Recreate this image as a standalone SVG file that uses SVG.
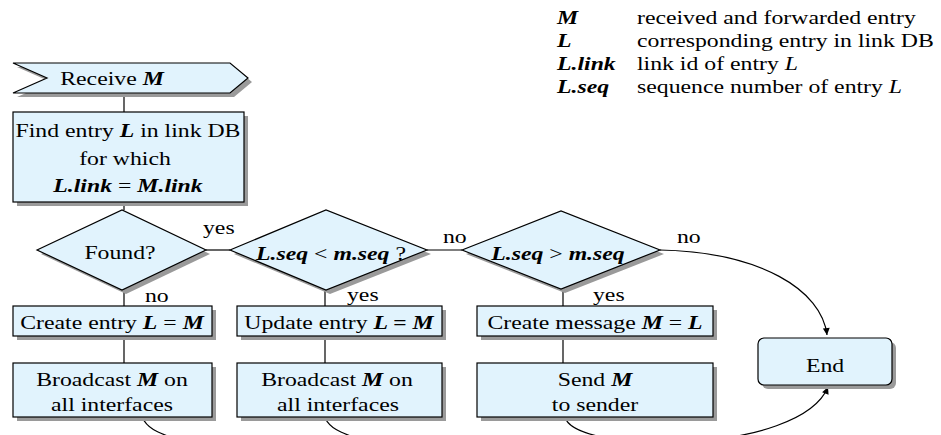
<svg xmlns="http://www.w3.org/2000/svg" width="941" height="435" viewBox="0 0 941 435">
<defs>
<style>
.box{fill:#e1f3fd;stroke:#000;stroke-width:1.2}
.sh{fill:#9a9a9a}
.t{font-family:"Liberation Serif","Times New Roman",serif;font-size:19px;fill:#000}
.c{text-anchor:middle}
.v{font-weight:bold;font-style:italic}
.i{font-style:italic}
.ln{fill:none;stroke:#000;stroke-width:1.2}
</style>
<marker id="ah" viewBox="0 0 10 10" refX="10" refY="5" markerWidth="8" markerHeight="7" orient="auto" markerUnits="userSpaceOnUse">
<path d="M0,0 L10,5 L0,10 z" fill="#000"/>
</marker>
</defs>
<rect width="941" height="435" fill="#fff"/>

<g id="legend" class="t" transform="translate(557 0) scale(1.25 1)">
<text x="0" y="24" class="v">M</text><text x="64" y="24">received and forwarded entry</text>
<text x="0" y="47" class="v">L</text><text x="64" y="47">corresponding entry in link DB</text>
<text x="0" y="70" class="v">L.link</text><text x="64" y="70">link id of entry <tspan class="i">L</tspan></text>
<text x="0" y="93" class="v">L.seq</text><text x="64" y="93">sequence number of entry <tspan class="i">L</tspan></text>
</g>

<g id="connectors">
<line class="ln" x1="124" y1="93" x2="124" y2="112"/>
<line class="ln" x1="124" y1="202" x2="124" y2="210"/>
<line class="ln" x1="206" y1="250" x2="230" y2="250"/>
<line class="ln" x1="427" y1="250" x2="462" y2="250"/>
<line class="ln" x1="124" y1="290" x2="124" y2="306"/>
<line class="ln" x1="124" y1="336" x2="124" y2="363"/>
<line class="ln" x1="325" y1="290" x2="325" y2="306"/>
<line class="ln" x1="325" y1="336" x2="325" y2="363"/>
<line class="ln" x1="563" y1="289" x2="563" y2="306"/>
<line class="ln" x1="563" y1="336" x2="563" y2="363"/>
<path class="ln" d="M660,250 C760,252 822,290 827,335" marker-end="url(#ah)"/>
<path class="ln" d="M565,417 C575,455 800,455 828,387" marker-end="url(#ah)"/>
<path class="ln" d="M142,417 C148,430 160,433 178,440"/>
<path class="ln" d="M325,418 C331,430 343,433 361,440"/>
<g class="t">
<text transform="translate(203 234) scale(1.25 1)">yes</text>
<text transform="translate(443 243) scale(1.25 1)">no</text>
<text transform="translate(677 243) scale(1.25 1)">no</text>
<text transform="translate(145 302) scale(1.25 1)">no</text>
<text transform="translate(347 301) scale(1.25 1)">yes</text>
<text transform="translate(593 301) scale(1.25 1)">yes</text>
</g>
</g>

<g id="receive">
<polygon class="sh" points="17,67 234,67 252,82 234,97 17,97 51,82"/>
<polygon class="box" points="13,63 230,63 248,78 230,93 13,93 47,78"/>
<text class="t c" transform="translate(112 85) scale(1.25 1)">Receive <tspan class="v">M</tspan></text>
</g>

<g id="find">
<rect class="sh" x="17" y="116" width="231" height="90"/>
<rect class="box" x="13" y="112" width="231" height="90"/>
<text class="t c" transform="translate(128 137) scale(1.25 1)">Find entry <tspan class="v">L</tspan> in link DB</text>
<text class="t c" transform="translate(125 165) scale(1.25 1)">for which</text>
<text class="t c" transform="translate(128 192) scale(1.25 1)"><tspan class="v">L.link</tspan> = <tspan class="v">M.link</tspan></text>
</g>

<g id="found">
<polygon class="sh" points="41,254 126,214 210,254 126,294"/>
<polygon class="box" points="37,250 122,210 206,250 122,290"/>
<text class="t c" transform="translate(120 259) scale(1.25 1)">Found?</text>
</g>

<g id="less">
<polygon class="sh" points="234,254 330,214 431,254 330,294"/>
<polygon class="box" points="230,250 326,210 427,250 326,290"/>
<text class="t c" transform="translate(331 260) scale(1.25 1)"><tspan class="v">L.seq</tspan> &lt; <tspan class="v">m.seq</tspan> ?</text>
</g>

<g id="greater">
<polygon class="sh" points="466,254 565,215 664,254 565,293"/>
<polygon class="box" points="462,250 561,211 660,250 561,289"/>
<text class="t c" transform="translate(558 260) scale(1.25 1)"><tspan class="v">L.seq</tspan> &gt; <tspan class="v">m.seq</tspan></text>
</g>

<g id="create">
<rect class="sh" x="17" y="310" width="199" height="30"/>
<rect class="box" x="13" y="306" width="199" height="30"/>
<text class="t c" transform="translate(112 329) scale(1.25 1)">Create entry <tspan class="v">L</tspan> = <tspan class="v">M</tspan></text>
</g>

<g id="update">
<rect class="sh" x="241" y="310" width="205" height="30"/>
<rect class="box" x="237" y="306" width="205" height="30"/>
<text class="t c" transform="translate(339 329) scale(1.25 1)">Update entry <tspan class="v">L = M</tspan></text>
</g>

<g id="createmsg">
<rect class="sh" x="481" y="310" width="236" height="30"/>
<rect class="box" x="477" y="306" width="236" height="30"/>
<text class="t c" transform="translate(595 329) scale(1.25 1)">Create message <tspan class="v">M</tspan> = <tspan class="v">L</tspan></text>
</g>

<g id="broadcast1">
<rect class="sh" x="17" y="367" width="199" height="54"/>
<rect class="box" x="13" y="363" width="199" height="54"/>
<text class="t c" transform="translate(112 386) scale(1.25 1)">Broadcast <tspan class="v">M</tspan> on</text>
<text class="t c" transform="translate(112 411) scale(1.25 1)">all interfaces</text>
</g>

<g id="broadcast2">
<rect class="sh" x="241" y="367" width="205" height="54"/>
<rect class="box" x="237" y="363" width="205" height="54"/>
<text class="t c" transform="translate(337 386) scale(1.25 1)">Broadcast <tspan class="v">M</tspan> on</text>
<text class="t c" transform="translate(338 411) scale(1.25 1)">all interfaces</text>
</g>

<g id="send">
<rect class="sh" x="481" y="367" width="236" height="54"/>
<rect class="box" x="477" y="363" width="236" height="54"/>
<text class="t c" transform="translate(595 386) scale(1.25 1)">Send <tspan class="v">M</tspan></text>
<text class="t c" transform="translate(595 411) scale(1.25 1)">to sender</text>
</g>

<g id="end">
<rect class="sh" x="762" y="342" width="134" height="47" rx="6"/>
<rect class="box" x="758" y="338" width="134" height="47" rx="6"/>
<text class="t c" transform="translate(825 372) scale(1.25 1)">End</text>
</g>
</svg>
